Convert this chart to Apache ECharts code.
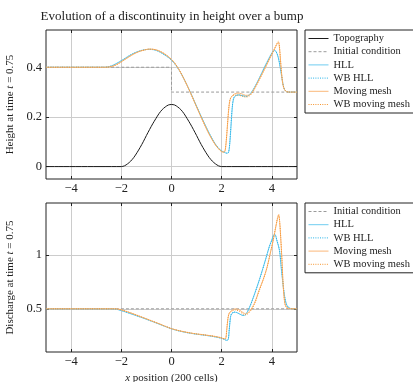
<!DOCTYPE html>
<html>
<head>
<meta charset="utf-8">
<script src="https://cdn.jsdelivr.net/npm/echarts@6/dist/echarts.min.js"></script>
<style>
  html, body { margin: 0; padding: 0; background: #fff; }
  #chart { width: 413px; height: 382px; }
</style>
</head>
<body>
<div id="chart"></div>
<script>
// tick positions
const xTicks = [-4, -2, 0, 2, 4];
const heightTicks = [0, 0.2, 0.4];
const dischargeTicks = [0.5, 1];

// [x, value]
const topography = [[-5,0],[-2,0],[-1.875,0.003],[-1.75,0.011],[-1.625,0.022],[-1.5,0.037],[-1.375,0.056],[-1.25,0.077],[-1.125,0.1],[-1,0.125],[-0.875,0.149],[-0.75,0.172],[-0.625,0.193],[-0.5,0.213],[-0.375,0.229],[-0.25,0.24],[-0.125,0.248],[0,0.25],[0.125,0.248],[0.25,0.24],[0.375,0.229],[0.5,0.213],[0.625,0.193],[0.75,0.172],[0.875,0.149],[1,0.125],[1.125,0.1],[1.25,0.077],[1.375,0.056],[1.5,0.037],[1.625,0.022],[1.75,0.011],[1.875,0.003],[2,0],[5,0]];
const heightInitial = [[-5,0.4],[0,0.4],[0,0.3],[5,0.3]];
const dischargeInitial = [[-5,0.5],[5,0.5]];

const heightHLL = [[-5,0.4],[-2.7,0.4],[-2.5,0.402],[-2.3,0.409],[-2.1,0.42],[-1.9,0.432],[-1.7,0.445],[-1.5,0.456],[-1.3,0.464],[-1.1,0.47],[-0.9,0.472],[-0.7,0.471],[-0.5,0.464],[-0.3,0.452],[-0.1,0.438],[0.1,0.418],[0.3,0.39],[0.5,0.352],[0.75,0.3],[1,0.243],[1.25,0.187],[1.5,0.135],[1.75,0.09],[1.95,0.066],[2.1,0.058],[2.2,0.054],[2.27,0.056],[2.32,0.09],[2.37,0.16],[2.42,0.235],[2.47,0.272],[2.55,0.285],[2.7,0.289],[2.85,0.285],[3,0.284],[3.15,0.295],[3.3,0.318],[3.5,0.357],[3.7,0.4],[3.9,0.44],[4,0.458],[4.1,0.469],[4.17,0.463],[4.25,0.44],[4.32,0.405],[4.4,0.355],[4.47,0.318],[4.55,0.304],[4.65,0.3],[5,0.3]];
const heightWBHLL = [[-5,0.4],[-2.7,0.4],[-2.5,0.402],[-2.3,0.41],[-2.1,0.421],[-1.9,0.433],[-1.7,0.446],[-1.5,0.457],[-1.3,0.465],[-1.1,0.47],[-0.9,0.472],[-0.7,0.47],[-0.5,0.463],[-0.3,0.451],[-0.1,0.437],[0.1,0.417],[0.3,0.389],[0.5,0.351],[0.75,0.299],[1,0.242],[1.25,0.186],[1.5,0.134],[1.75,0.09],[1.95,0.066],[2.1,0.058],[2.2,0.054],[2.27,0.057],[2.32,0.095],[2.37,0.17],[2.42,0.24],[2.47,0.274],[2.55,0.286],[2.7,0.288],[2.85,0.284],[3,0.283],[3.15,0.293],[3.3,0.316],[3.5,0.355],[3.7,0.398],[3.9,0.438],[4,0.456],[4.1,0.467],[4.17,0.462],[4.25,0.442],[4.32,0.408],[4.4,0.36],[4.47,0.32],[4.55,0.305],[4.65,0.3],[5,0.3]];
const heightMM = [[-5,0.4],[-2.7,0.4],[-2.5,0.401],[-2.3,0.406],[-2.1,0.416],[-1.9,0.429],[-1.7,0.442],[-1.5,0.454],[-1.3,0.463],[-1.1,0.469],[-0.9,0.473],[-0.7,0.472],[-0.5,0.466],[-0.3,0.455],[-0.1,0.44],[0.1,0.42],[0.3,0.39],[0.5,0.352],[0.75,0.298],[1,0.24],[1.25,0.183],[1.5,0.13],[1.75,0.087],[1.95,0.064],[2.07,0.058],[2.13,0.062],[2.18,0.1],[2.23,0.165],[2.28,0.23],[2.33,0.268],[2.4,0.283],[2.5,0.292],[2.65,0.296],[2.8,0.293],[2.95,0.287],[3.1,0.288],[3.25,0.305],[3.5,0.352],[3.7,0.392],[3.9,0.433],[4.05,0.463],[4.15,0.483],[4.22,0.497],[4.26,0.5],[4.3,0.48],[4.34,0.43],[4.38,0.38],[4.43,0.335],[4.5,0.31],[4.58,0.302],[4.7,0.3],[5,0.3]];
const heightWBMM = [[-5,0.4],[-2.7,0.4],[-2.5,0.401],[-2.3,0.405],[-2.1,0.415],[-1.9,0.428],[-1.7,0.441],[-1.5,0.453],[-1.3,0.463],[-1.1,0.469],[-0.9,0.473],[-0.7,0.472],[-0.5,0.466],[-0.3,0.456],[-0.1,0.441],[0.1,0.421],[0.3,0.391],[0.5,0.353],[0.75,0.299],[1,0.241],[1.25,0.184],[1.5,0.131],[1.75,0.088],[1.95,0.064],[2.07,0.058],[2.13,0.063],[2.18,0.105],[2.23,0.17],[2.28,0.235],[2.33,0.27],[2.4,0.282],[2.5,0.288],[2.65,0.288],[2.8,0.284],[2.95,0.28],[3.1,0.284],[3.25,0.302],[3.5,0.35],[3.7,0.39],[3.9,0.432],[4.05,0.463],[4.15,0.485],[4.22,0.5],[4.26,0.505],[4.3,0.485],[4.34,0.435],[4.38,0.383],[4.43,0.337],[4.5,0.311],[4.58,0.302],[4.7,0.3],[5,0.3]];

const dischargeHLL = [[-5,0.5],[-2.4,0.5],[-2.2,0.496],[-2,0.483],[-1.75,0.464],[-1.5,0.444],[-1.25,0.424],[-1,0.403],[-0.75,0.381],[-0.5,0.359],[-0.25,0.336],[0,0.315],[0.25,0.298],[0.5,0.285],[0.75,0.274],[1,0.265],[1.25,0.258],[1.5,0.25],[1.75,0.24],[2,0.227],[2.1,0.218],[2.2,0.208],[2.26,0.215],[2.3,0.3],[2.35,0.42],[2.4,0.455],[2.5,0.468],[2.6,0.465],[2.75,0.447],[2.85,0.438],[2.95,0.445],[3.1,0.51],[3.25,0.6],[3.5,0.77],[3.75,0.96],[3.9,1.08],[4,1.14],[4.07,1.185],[4.12,1.19],[4.2,1.13],[4.3,1.04],[4.37,0.88],[4.44,0.73],[4.5,0.62],[4.57,0.546],[4.65,0.515],[4.75,0.503],[5,0.5]];
const dischargeWBHLL = [[-5,0.5],[-2.4,0.5],[-2.2,0.497],[-2,0.485],[-1.75,0.466],[-1.5,0.446],[-1.25,0.425],[-1,0.404],[-0.75,0.382],[-0.5,0.36],[-0.25,0.337],[0,0.315],[0.25,0.298],[0.5,0.285],[0.75,0.274],[1,0.265],[1.25,0.257],[1.5,0.249],[1.75,0.239],[2,0.226],[2.1,0.217],[2.2,0.208],[2.26,0.218],[2.3,0.31],[2.35,0.425],[2.4,0.458],[2.5,0.47],[2.6,0.466],[2.75,0.448],[2.85,0.44],[2.95,0.446],[3.1,0.508],[3.25,0.596],[3.5,0.765],[3.75,0.955],[3.9,1.075],[4,1.135],[4.07,1.18],[4.12,1.185],[4.2,1.135],[4.3,1.05],[4.37,0.9],[4.44,0.745],[4.5,0.63],[4.57,0.55],[4.65,0.516],[4.75,0.503],[5,0.5]];
const dischargeMM = [[-5,0.5],[-2.3,0.5],[-2.1,0.496],[-2,0.49],[-1.75,0.472],[-1.5,0.451],[-1.25,0.429],[-1,0.407],[-0.75,0.384],[-0.5,0.362],[-0.25,0.338],[0,0.316],[0.25,0.3],[0.5,0.287],[0.75,0.276],[1,0.267],[1.25,0.26],[1.5,0.252],[1.75,0.243],[2,0.23],[2.1,0.222],[2.16,0.225],[2.2,0.3],[2.25,0.41],[2.3,0.46],[2.4,0.485],[2.55,0.5],[2.7,0.49],[2.85,0.465],[2.95,0.455],[3.1,0.475],[3.3,0.55],[3.5,0.68],[3.65,0.77],[3.8,0.88],[3.95,1.03],[4.05,1.13],[4.15,1.25],[4.22,1.33],[4.27,1.365],[4.31,1.3],[4.35,1.16],[4.4,0.95],[4.44,0.75],[4.48,0.62],[4.53,0.535],[4.6,0.51],[4.7,0.502],[5,0.5]];
const dischargeWBMM = [[-5,0.5],[-2.3,0.5],[-2.1,0.497],[-2,0.491],[-1.75,0.473],[-1.5,0.452],[-1.25,0.43],[-1,0.408],[-0.75,0.385],[-0.5,0.363],[-0.25,0.339],[0,0.317],[0.25,0.301],[0.5,0.288],[0.75,0.277],[1,0.268],[1.25,0.261],[1.5,0.253],[1.75,0.244],[2,0.231],[2.1,0.223],[2.16,0.226],[2.2,0.31],[2.25,0.415],[2.3,0.458],[2.4,0.478],[2.55,0.49],[2.7,0.478],[2.85,0.452],[2.95,0.445],[3.1,0.466],[3.3,0.54],[3.5,0.67],[3.65,0.765],[3.8,0.875],[3.95,1.03],[4.05,1.135],[4.15,1.26],[4.22,1.34],[4.27,1.375],[4.31,1.31],[4.35,1.17],[4.4,0.96],[4.44,0.76],[4.48,0.625],[4.53,0.537],[4.6,0.51],[4.7,0.502],[5,0.5]];

const serif = "Liberation Serif";
const gridColor = "#cccccc";
const colors = {
    topo: "#1a1a1a",
    initial: "#9a9a9a",
    hll: "#6fcdf0",
    wbhll: "#22b2e8",
    mm: "#fbb87a",
    wbmm: "#f5952f",
};

const minus = (v) => String(v).replace("-", "\u2212");

function xAxisPair(gridIndex, withName) {
    return [
        {
            type: "value", gridIndex, min: -5, max: 5,
            axisLine: { show: false, onZero: false },
            axisTick: { inside: true, length: 3, customValues: xTicks, lineStyle: { color: "#222" } },
            axisLabel: { customValues: xTicks, formatter: minus, margin: 3, color: "#222", fontFamily: serif, fontSize: 12.5 },
            splitLine: { show: true, lineStyle: { color: gridColor, width: 1 } },
            name: withName ? "{i|x} position (200 cells)" : "",
            nameLocation: "middle",
            nameGap: 21,
            nameTextStyle: {
                color: "#222", fontFamily: serif, fontSize: 11,
                rich: { i: { fontStyle: "italic", fontFamily: serif, fontSize: 11, color: "#222" } },
            },
        },
        {
            type: "value", gridIndex, min: -5, max: 5, position: "top",
            axisLine: { show: false, onZero: false },
            axisTick: { inside: true, length: 3, customValues: xTicks, lineStyle: { color: "#222" } },
            axisLabel: { show: false },
            splitLine: { show: false },
        },
    ];
}

function yAxisPair(gridIndex, min, max, ticks, label) {
    return [
        {
            type: "value", gridIndex, min, max,
            axisLine: { show: false, onZero: false },
            axisTick: { inside: true, length: 3, customValues: ticks, lineStyle: { color: "#222" } },
            axisLabel: { customValues: ticks, margin: 4, color: "#222", fontFamily: serif, fontSize: 12.5,
                formatter: (v) => (v === 0 ? "0" : String(v)) },
            splitLine: { show: true, lineStyle: { color: gridColor, width: 1 } },
            name: label,
            nameLocation: "middle",
            nameRotate: 90,
            nameGap: 25,
            nameTextStyle: {
                color: "#222", fontFamily: serif, fontSize: 11,
                rich: { i: { fontStyle: "italic", fontFamily: serif, fontSize: 11, color: "#222" } },
            },
        },
        {
            type: "value", gridIndex, min, max, position: "right",
            axisLine: { show: false, onZero: false },
            axisTick: { inside: true, length: 3, customValues: ticks, lineStyle: { color: "#222" } },
            axisLabel: { show: false },
            splitLine: { show: false },
        },
    ];
}

function line(name, data, axis, color, width, dash) {
    return {
        name, type: "line", data,
        xAxisIndex: axis, yAxisIndex: axis,
        symbol: "none", smooth: 0.3,
        lineStyle: { color, width, type: dash ? dash : "solid" },
        itemStyle: { color },
        silent: true, animation: false,
    };
}

function legend(top, names) {
    return {
        left: 305, top, orient: "vertical",
        data: names,
        borderColor: "#222", borderWidth: 1, borderRadius: 0,
        padding: [3, 4, 3, 3],
        itemWidth: 20, itemHeight: 9, itemGap: 2.2,
        itemStyle: { opacity: 0 },
        lineStyle: { width: 1 },
        textStyle: { fontFamily: serif, fontSize: 10.5, color: "#222", lineHeight: 10 },
        selectedMode: false,
    };
}

const topNames = ["Topography", "Initial condition", "HLL", "WB HLL", "Moving mesh", "WB moving mesh"];
const bottomNames = topNames.slice(1);

const option = {
    animation: false,
    title: {
        text: "Evolution of a discontinuity in height over a bump",
        left: 167, top: 5, textAlign: "center",
        textStyle: { fontFamily: serif, fontSize: 13, fontWeight: "normal", color: "#222" },
    },
    legend: [legend(30, topNames), legend(203, bottomNames)],
    grid: [
        { left: 46, top: 30, width: 251, height: 149, outerBoundsMode: "none", show: true, borderColor: "#222", borderWidth: 1, backgroundColor: "transparent" },
        { left: 46, top: 203, width: 251, height: 149, outerBoundsMode: "none", show: true, borderColor: "#222", borderWidth: 1, backgroundColor: "transparent" },
    ],
    xAxis: [...xAxisPair(0, false), ...xAxisPair(1, true)],
    yAxis: [
        ...yAxisPair(0, -0.05, 0.55, heightTicks, "Height at time {i|t} = 0.75"),
        ...yAxisPair(1, 0.1, 1.48, dischargeTicks, "Discharge at time {i|t} = 0.75"),
    ],
    series: [
        line("Topography", topography, 0, colors.topo, 1),
        line("Initial condition", heightInitial, 0, colors.initial, 1, [3, 2]),
        line("HLL", heightHLL, 0, colors.hll, 1),
        line("WB HLL", heightWBHLL, 0, colors.wbhll, 1, [1, 1.3]),
        line("Moving mesh", heightMM, 0, colors.mm, 1),
        line("WB moving mesh", heightWBMM, 0, colors.wbmm, 1, [1, 1.3]),

        line("Initial condition", dischargeInitial, 2, colors.initial, 1, [3, 2]),
        line("HLL", dischargeHLL, 2, colors.hll, 1),
        line("WB HLL", dischargeWBHLL, 2, colors.wbhll, 1, [1, 1.3]),
        line("Moving mesh", dischargeMM, 2, colors.mm, 1),
        line("WB moving mesh", dischargeWBMM, 2, colors.wbmm, 1, [1, 1.3]),
    ],
};

const chart = echarts.init(document.getElementById("chart"), null, { renderer: "canvas" });
chart.setOption(option);
</script>
</body>
</html>
